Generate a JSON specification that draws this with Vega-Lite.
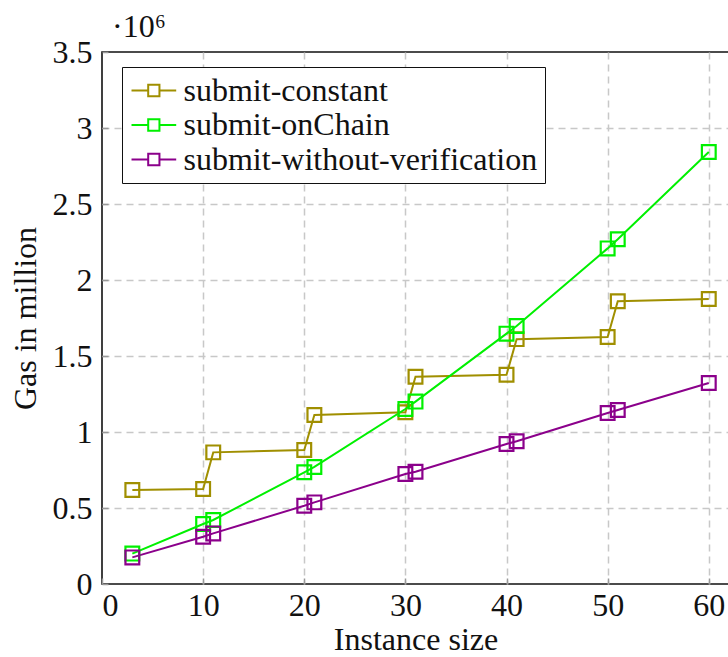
{
  "$schema": "https://vega.github.io/schema/vega-lite/v6.json",
  "width": 627,
  "height": 532,
  "autosize": {"type": "none"},
  "padding": {"left": 102, "top": 52, "right": 0, "bottom": 73},
  "background": "white",
  "title": {"text": "·10⁶", "anchor": "start", "frame": "group", "dx": 10, "dy": 33, "offset": 0, "baseline": "alphabetic", "font": "Liberation Serif", "fontSize": 32, "fontWeight": "normal", "color": "#111"},
  "config": {
    "font": "Liberation Serif",
    "view": {"stroke": "#111", "strokeWidth": 1.6},
    "axis": {"labelFont": "Liberation Serif", "titleFont": "Liberation Serif", "labelFontSize": 32, "titleFontSize": 32, "titleFontWeight": "normal", "labelColor": "#111", "titleColor": "#111", "grid": true, "gridColor": "#c8c8c8", "gridDash": [7, 5], "gridWidth": 1.5, "ticks": true, "tickSize": -6, "tickColor": "#999", "tickWidth": 1.5, "domain": false}
  },
  "data": {"values": [
    {"size": 3, "gas": 618000, "series": "submit-constant"},
    {"size": 10, "gas": 625000, "series": "submit-constant"},
    {"size": 11, "gas": 866000, "series": "submit-constant"},
    {"size": 20, "gas": 882000, "series": "submit-constant"},
    {"size": 21, "gas": 1112000, "series": "submit-constant"},
    {"size": 30, "gas": 1130000, "series": "submit-constant"},
    {"size": 31, "gas": 1364000, "series": "submit-constant"},
    {"size": 40, "gas": 1377000, "series": "submit-constant"},
    {"size": 41, "gas": 1611000, "series": "submit-constant"},
    {"size": 50, "gas": 1625000, "series": "submit-constant"},
    {"size": 51, "gas": 1860000, "series": "submit-constant"},
    {"size": 60, "gas": 1875000, "series": "submit-constant"},
    {"size": 3, "gas": 200000, "series": "submit-onChain"},
    {"size": 10, "gas": 395000, "series": "submit-onChain"},
    {"size": 11, "gas": 421000, "series": "submit-onChain"},
    {"size": 20, "gas": 735000, "series": "submit-onChain"},
    {"size": 21, "gas": 770000, "series": "submit-onChain"},
    {"size": 30, "gas": 1151000, "series": "submit-onChain"},
    {"size": 31, "gas": 1200000, "series": "submit-onChain"},
    {"size": 40, "gas": 1647000, "series": "submit-onChain"},
    {"size": 41, "gas": 1697000, "series": "submit-onChain"},
    {"size": 50, "gas": 2208000, "series": "submit-onChain"},
    {"size": 51, "gas": 2268000, "series": "submit-onChain"},
    {"size": 60, "gas": 2842000, "series": "submit-onChain"},
    {"size": 3, "gas": 175000, "series": "submit-without-verification"},
    {"size": 10, "gas": 311000, "series": "submit-without-verification"},
    {"size": 11, "gas": 333000, "series": "submit-without-verification"},
    {"size": 20, "gas": 515000, "series": "submit-without-verification"},
    {"size": 21, "gas": 537000, "series": "submit-without-verification"},
    {"size": 30, "gas": 724000, "series": "submit-without-verification"},
    {"size": 31, "gas": 739000, "series": "submit-without-verification"},
    {"size": 40, "gas": 921000, "series": "submit-without-verification"},
    {"size": 41, "gas": 939000, "series": "submit-without-verification"},
    {"size": 50, "gas": 1125000, "series": "submit-without-verification"},
    {"size": 51, "gas": 1145000, "series": "submit-without-verification"},
    {"size": 60, "gas": 1322000, "series": "submit-without-verification"}
  ]},
  "encoding": {
    "x": {"field": "size", "type": "quantitative", "scale": {"domain": [0, 62], "nice": false, "zero": true}, "axis": {"values": [0, 10, 20, 30, 40, 50, 60], "title": "Instance size", "labelPadding": 12, "titlePadding": 3, "gridOpacity": {"condition": {"test": "datum.value == 0", "value": 0}, "value": 1}}},
    "y": {"field": "gas", "type": "quantitative", "scale": {"domain": [0, 3500000], "nice": false}, "axis": {"values": [0, 500000, 1000000, 1500000, 2000000, 2500000, 3000000, 3500000], "labelExpr": "format(datum.value / 1000000, '~g')", "title": "Gas in million", "labelPadding": 16, "titlePadding": 10, "gridOpacity": {"condition": {"test": "datum.value == 0 || datum.value == 3500000", "value": 0}, "value": 1}}},
    "color": {"field": "series", "type": "nominal", "scale": {"domain": ["submit-constant", "submit-onChain", "submit-without-verification"], "range": ["#a08f00", "#00f000", "#8b008b"]}, "legend": {"title": null, "orient": "none", "legendX": 20, "legendY": 15, "symbolType": "M-0.933,0H0.18M0.93,0H2.047M0.18,-0.38H0.93V0.38H0.18Z", "symbolSize": 900, "symbolStrokeWidth": 2, "symbolFillColor": "transparent", "labelFont": "Liberation Serif", "labelFontSize": 32, "labelColor": "#111", "labelOffset": 22, "labelLimit": 600, "rowPadding": 2.5, "padding": 7.5, "strokeColor": "#111", "fillColor": "white", "symbolOpacity": 1}}
  },
  "layer": [
    {"mark": {"type": "line", "strokeWidth": 2}},
    {"mark": {"type": "point", "shape": "square", "filled": false, "size": 190, "strokeWidth": 2.2, "opacity": 1}}
  ]
}
